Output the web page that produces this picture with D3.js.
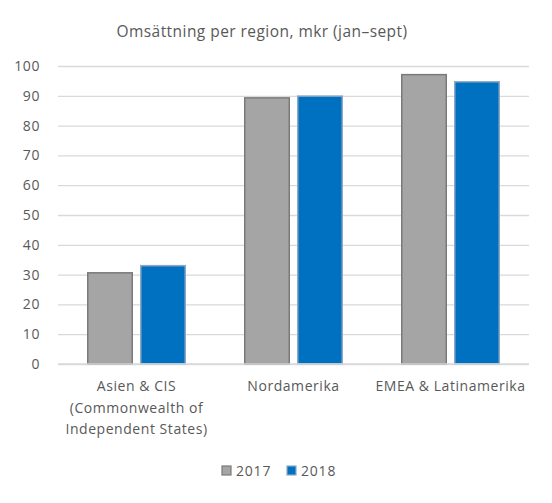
<!DOCTYPE html>
<html><head><meta charset="utf-8">
<script src="https://cdn.jsdelivr.net/npm/d3@7"></script>
<style>body{margin:0;background:#fff;}svg{display:block;font-family:"Open Sans","Noto Sans",sans-serif;}</style>
</head><body>
<svg id="c" width="552" height="503"></svg>
<script>
const categories = ["Asien & CIS\n(Commonwealth of\nIndependent States)", "Nordamerika", "EMEA & Latinamerika"];
const series = ["2017", "2018"];
const values2017 = [30.6, 89.3, 97.1];
const values2018 = [33.0, 89.9, 94.7];
const yTicks = [0,10,20,30,40,50,60,70,80,90,100];
const title = "Omsättning per region, mkr (jan–sept)";

const fills = {"2017":"#a5a5a5","2018":"#0070c0"};
const strokes = {"2017":"#7a7a7a","2018":"#8fa9c4"};
const svg = d3.select("#c");
const pL = 58, pR = 529, pT = 66, pB = 364;
const x = d3.scaleBand().domain(d3.range(categories.length)).range([pL,pR]).paddingInner(0).paddingOuter(0);
const xs = d3.scaleBand().domain(series).range([29,128]).paddingInner(0.132).paddingOuter(0);
const y = d3.scaleLinear().domain([0,100]).range([pB,pT]);

svg.append("text").attr("x",262).attr("y",37).attr("text-anchor","middle").attr("fill","#595959")
  .attr("font-size",15.5).attr("letter-spacing","0.45px").text(title);

const yAxis = d3.axisLeft(y).tickValues(yTicks).tickSize(-(pR-pL)).tickPadding(18);
const ga = svg.append("g").attr("transform",`translate(${pL},0)`).call(yAxis);
ga.select(".domain").remove();
ga.selectAll(".tick line").attr("stroke","#d9d9d9").attr("stroke-width",1.3);
ga.selectAll(".tick text").attr("fill","#595959").attr("font-size",14).attr("letter-spacing","0.6px")
  .attr("font-family","'Open Sans','Noto Sans',sans-serif");

const data = categories.map((c,i)=>({i, vals:[{s:"2017",v:values2017[i]},{s:"2018",v:values2018[i]}]}));
const g = svg.append("g");
data.forEach(d=>{
  g.selectAll(null).data(d.vals).enter().append("rect")
   .attr("x",e=>x(d.i)+xs(e.s)+0.75)
   .attr("width",xs.bandwidth()-1.5)
   .attr("y",e=>y(e.v))
   .attr("height",e=>y(0)-y(e.v))
   .attr("fill",e=>fills[e.s]).attr("stroke",e=>strokes[e.s]).attr("stroke-width",1.5);
});

svg.append("line").attr("x1",pL).attr("x2",pR).attr("y1",pB).attr("y2",pB).attr("stroke","#d9d9d9").attr("stroke-width",1.3);

const xl = svg.append("g");
categories.forEach((c,i)=>{
  const t = xl.append("text").attr("text-anchor","middle").attr("fill","#595959").attr("font-size",14).attr("letter-spacing","0.55px");
  c.split("\n").forEach((ln,k)=>{
    t.append("tspan").attr("x",x(i)+x.bandwidth()/2).attr("y",391+k*21.5).text(ln);
  });
});

const lg = svg.append("g");
const lx = [222, 287];
series.forEach((s,k)=>{
  lg.append("rect").attr("x",lx[k]).attr("y",466).attr("width",9).attr("height",9).attr("fill",fills[s]).attr("stroke",strokes[s]).attr("stroke-width",1.2);
  lg.append("text").attr("x",lx[k]+14).attr("y",476).attr("fill","#595959").attr("font-size",14).attr("letter-spacing","0.8px").text(s);
});
</script>
</body></html>
